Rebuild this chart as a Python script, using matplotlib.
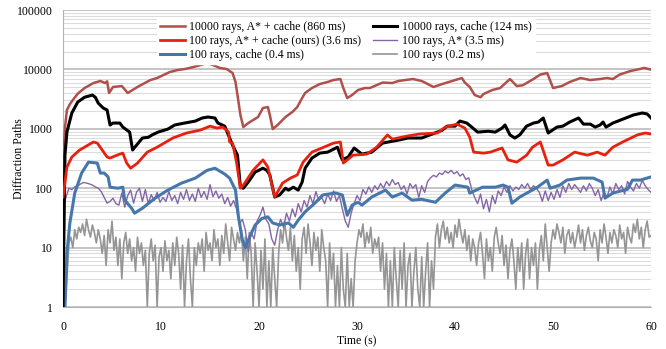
import numpy as np
import matplotlib
matplotlib.use("Agg")
import matplotlib.pyplot as plt
from matplotlib.ticker import LogLocator, FixedLocator, NullFormatter

plt.rcParams["font.family"] = ["Liberation Serif", "DejaVu Serif"]

# 10000 rays, A* + cache
t_big_astar = [0.0, 0.1, 0.2, 0.4, 0.7, 1.0, 1.5, 2.2, 2.7, 3.1, 3.8, 4.3, 4.5, 4.7, 5.1,
               6.0, 6.6, 7.6, 8.9, 9.6, 10.9, 11.7, 12.5, 13.3, 14.0, 14.7, 15.3, 16.0,
               16.7, 17.3, 17.6, 17.8, 18.1, 18.4, 18.9, 19.9, 20.4, 20.9, 21.1, 21.4,
               21.9, 22.7, 23.4, 23.9, 24.4, 24.7, 25.4, 26.2, 27.0, 27.6, 28.3, 28.6,
               29.0, 29.5, 30.1, 30.8, 31.3, 32.6, 33.6, 34.2, 35.7, 36.6, 37.8, 38.7,
               40.0, 40.7, 41.0, 41.5, 42.0, 42.6, 42.9, 43.8, 44.6, 45.6, 46.3, 46.9,
               48.0, 48.7, 49.4, 50.0, 50.9, 51.7, 52.8, 53.8, 54.8, 55.5, 56.1, 56.8,
               57.9, 58.9, 59.3, 59.7, 60.0]
v_big_astar = [1.5, 500, 1050, 2070, 2600, 3050, 3900, 4860, 5400, 5900, 6380, 5900, 6300,
               4010, 5060, 5250, 4010, 5060, 6610, 7160, 9040, 9770, 10200, 10970, 11800,
               12820, 11860, 10570, 10160, 8700, 6140, 3710, 1710, 1072, 1250, 1580, 2240,
               2330, 1710, 990, 1160, 1580, 1920, 2330, 3300, 4010, 4860, 5680, 6140, 6630,
               6890, 4860, 3300, 3710, 4500, 4860, 4860, 6000, 5900, 6380, 6890, 6380, 5060,
               5680, 6610, 7160, 6000, 5060, 3710, 3400, 3850, 4500, 4860, 6890, 5250, 5400,
               6890, 8200, 8700, 4860, 5250, 6140, 7160, 6630, 6890, 7160, 6890, 8200, 9400,
               10200, 10600, 10200, 9900]

# 10000 rays, cache
t_big_cache = [0.0, 0.1, 0.2, 0.4, 0.9, 1.5, 2.2, 3.0, 3.3, 3.6, 4.1, 4.5, 4.8, 5.1, 5.8,
               6.1, 6.8, 7.1, 8.1, 8.7, 9.1, 9.7, 10.7, 11.4, 12.4, 13.5, 14.2, 14.8, 15.5,
               15.8, 16.5, 17.0, 17.3, 17.8, 18.1, 18.4, 18.9, 19.6, 20.4, 20.8, 21.1, 21.6,
               22.1, 22.7, 23.0, 23.5, 24.0, 24.4, 24.7, 25.4, 26.2, 27.0, 28.0, 28.3, 28.5,
               29.1, 29.7, 30.5, 31.5, 32.6, 33.2, 34.2, 35.2, 36.6, 37.7, 38.7, 39.2, 40.0,
               40.5, 41.2, 41.7, 42.3, 43.4, 44.1, 44.8, 45.1, 45.6, 46.1, 46.6, 47.3, 48.0,
               48.5, 49.0, 49.5, 50.4, 51.0, 51.7, 52.6, 53.1, 53.8, 54.3, 54.8, 55.1, 55.4,
               56.1, 57.1, 58.2, 59.1, 59.6, 60.0]
v_big_cache = [1, 20, 362, 883, 1845, 2820, 3400, 3700, 3400, 2700, 2240, 2070, 1160, 1250,
               1250, 1070, 880, 440, 700, 720, 790, 880, 990, 1160, 1250, 1350, 1520, 1580,
               1520, 1250, 1110, 700, 530, 360, 104, 100, 127, 187, 217, 200, 167, 71, 77,
               100, 93, 104, 93, 127, 217, 322, 390, 405, 490, 360, 300, 335, 475, 375, 405,
               575, 600, 645, 700, 700, 820, 950, 1110, 1110, 1350, 1250, 1070, 880, 910, 880,
               1030, 1160, 790, 700, 790, 1110, 1250, 1300, 1520, 850, 1070, 1110, 1300, 1520,
               1200, 1200, 1070, 1160, 1300, 1070, 1250, 1450, 1710, 1845, 1780, 1520]

# 100 rays, A* + cache (ours)
t_ours = [0.0, 0.4, 0.9, 1.7, 3.1, 3.5, 4.5, 4.8, 5.5, 6.1, 6.5, 6.9, 7.6, 8.6, 9.6, 11.2,
          12.6, 14.0, 15.0, 15.7, 16.3, 16.9, 17.0, 17.3, 17.7, 18.1, 18.4, 19.4, 20.4,
          20.9, 21.6, 22.4, 23.2, 23.9, 24.5, 25.4, 26.4, 27.6, 28.3, 28.6, 29.6, 31.0,
          32.0, 33.1, 33.6, 35.1, 36.4, 38.2, 39.0, 40.2, 41.0, 41.5, 41.9, 42.9, 43.6,
          44.8, 45.4, 46.3, 47.3, 47.9, 48.7, 49.5, 50.0, 51.0, 52.2, 53.5, 54.5, 55.3,
          56.1, 57.1, 58.6, 59.4, 60.0]
v_ours = [71, 227, 335, 440, 600, 575, 335, 322, 360, 390, 265, 217, 265, 405, 490, 700,
          850, 950, 1110, 1030, 1070, 880, 600, 575, 275, 100, 113, 200, 300, 227, 71, 122,
          148, 167, 275, 405, 475, 575, 600, 265, 360, 375, 490, 790, 670, 755, 820, 850,
          1070, 1200, 1030, 720, 405, 390, 405, 475, 300, 275, 360, 490, 600, 245, 245,
          300, 405, 360, 405, 360, 490, 600, 790, 850, 820]

# 100 rays, cache
t_small_cache = [0.0, 0.2, 0.4, 0.7, 1.2, 1.9, 2.6, 3.5, 3.8, 4.2, 4.6, 4.8, 5.6, 6.1, 6.3,
                 7.0, 7.3, 8.1, 9.4, 10.7, 12.1, 13.5, 14.7, 15.5, 16.5, 17.0, 17.6, 17.9,
                 18.3, 18.6, 18.9, 19.6, 20.3, 20.9, 21.4, 22.1, 23.0, 23.5, 24.0, 24.7,
                 25.7, 26.5, 27.8, 28.5, 29.0, 29.5, 30.1, 30.5, 31.5, 32.9, 33.6, 34.6,
                 35.6, 36.6, 38.0, 39.0, 40.0, 41.3, 41.5, 42.8, 44.1, 44.9, 45.4, 45.8,
                 46.6, 48.4, 49.4, 49.7, 50.7, 51.4, 52.8, 54.1, 55.0, 55.3, 56.1, 57.6,
                 58.1, 58.9, 60.0]
v_small_cache = [1, 1, 8, 26, 83, 180, 275, 265, 180, 180, 155, 104, 100, 104, 63, 46, 38,
                 46, 68, 93, 122, 148, 200, 217, 173, 148, 93, 33, 13.4, 10, 13.4, 24, 31,
                 33, 26, 24, 26, 22, 29, 40, 56, 77, 83, 77, 35, 52, 58, 52, 71, 93, 71, 83,
                 63, 65, 58, 83, 113, 104, 83, 104, 104, 113, 104, 56, 71, 104, 137, 100, 113,
                 137, 148, 148, 127, 68, 83, 96, 137, 137, 155]

# 100 rays, A*  (one sample every 0.3 s)
v_small_astar = [48, 70, 100, 95, 105, 110, 118, 125, 122, 118, 113, 105, 100, 88, 70, 56,
                 60, 68, 55, 52, 83, 48, 75, 93, 56, 86, 100, 60, 95, 55, 78, 62, 85, 58,
                 70, 60, 88, 62, 75, 55, 85, 65, 95, 62, 80, 60, 100, 70, 88, 65, 115, 72,
                 90, 68, 80, 55, 70, 50, 62, 45, 25, 30, 20, 8.5, 18, 14, 28, 35, 48, 30, 25,
                 14, 11, 20, 30, 22, 38, 28, 45, 33, 55, 40, 62, 48, 75, 55, 88, 62, 70, 55,
                 80, 62, 90, 60, 75, 45, 28, 22, 38, 55, 75, 62, 95, 80, 105, 85, 110, 95,
                 120, 100, 130, 110, 140, 115, 125, 95, 110, 80, 120, 100, 115, 70, 110, 85,
                 130, 150, 165, 155, 180, 170, 195, 180, 200, 175, 190, 160, 175, 140, 150,
                 95, 70, 55, 80, 45, 65, 40, 75, 55, 90, 75, 105, 85, 110, 90, 105, 95, 115,
                 100, 120, 95, 110, 100, 85, 60, 90, 62, 85, 65, 95, 70, 110, 85, 120, 95,
                 115, 100, 85, 110, 90, 120, 100, 75, 95, 62, 85, 70, 105, 80, 120, 95, 110,
                 80, 130, 105, 90, 120, 100, 135, 110, 95, 85]

# 100 rays  (one sample every 0.2 s)
v_small = [1, 1, 3, 12, 15, 10, 20, 14, 22, 18,
           25, 16, 30, 20, 15, 24, 18, 12, 20, 14,
           8, 16, 5, 20, 12, 28, 9, 15, 5, 14,
           3, 12, 18, 8, 14, 6, 10, 4, 15, 8,
           12, 5, 9, 1, 8, 14, 6, 11, 1, 7,
           10, 4, 13, 6, 9, 3, 12, 5, 15, 8,
           2, 11, 1, 6, 14, 3, 1, 10, 5, 12,
           8, 14, 4, 18, 9, 12, 6, 20, 10, 14,
           5, 16, 8, 25, 12, 6, 22, 14, 9, 18,
           12, 20, 6, 15, 3, 18, 8, 1, 12, 4,
           1, 9, 2, 14, 1, 6, 1, 10, 3, 1,
           8, 20, 12, 28, 15, 9, 22, 6, 16, 4,
           10, 2, 14, 22, 8, 25, 12, 5, 18, 9,
           15, 4, 20, 10, 6, 1, 12, 3, 8, 1,
           5, 1, 10, 2, 1, 8, 1, 3, 1, 6,
           12, 20, 15, 25, 10, 18, 12, 22, 8, 14,
           10, 15, 4, 12, 2, 8, 1, 6, 1, 10,
           3, 1, 9, 2, 12, 1, 5, 8, 1, 4,
           10, 2, 1, 7, 1, 4, 12, 1, 6, 2,
           15, 25, 10, 20, 28, 14, 22, 12, 18, 10,
           24, 15, 30, 18, 12, 20, 9, 16, 6, 14,
           10, 5, 12, 18, 8, 3, 14, 6, 10, 4,
           15, 22, 12, 8, 16, 5, 11, 3, 9, 14,
           6, 2, 10, 4, 12, 2, 8, 14, 3, 10,
           5, 12, 2, 9, 16, 6, 25, 10, 4, 12,
           20, 14, 25, 18, 12, 22, 8, 16, 20, 12,
           18, 10, 15, 24, 12, 20, 9, 16, 22, 13,
           10, 18, 14, 6, 20, 12, 25, 15, 8, 18,
           12, 20, 16, 10, 24, 14, 18, 8, 22, 15,
           12, 25, 18, 30, 14, 22, 10, 20, 28, 15,
           16]

t_small_astar = np.arange(len(v_small_astar)) * 0.3
t_small = np.arange(len(v_small)) * 0.2

y_ticks = [1, 10, 100, 1000, 10000, 100000]
x_ticks = [0, 10, 20, 30, 40, 50, 60]

fig = plt.figure(figsize=(6.66, 3.49), dpi=100)
ax = fig.add_axes([0.0946, 0.1203, 0.883, 0.851])

ax.plot(t_big_astar, v_big_astar, color="#b0504c", lw=1.8,
        label="10000 rays, A* + cache (860 ms)", zorder=3)
ax.plot(t_ours, v_ours, color="#e8200e", lw=2.0,
        label="100 rays, A* + cache (ours) (3.6 ms)", zorder=5)
ax.plot(t_small_cache, v_small_cache, color="#4677ab", lw=2.2,
        label="100 rays, cache (0.4 ms)", zorder=4)
ax.plot(t_big_cache, v_big_cache, color="black", lw=2.2,
        label="10000 rays, cache (124 ms)", zorder=4)
ax.plot(t_small_astar, v_small_astar, color="#8466a6", lw=1.0,
        label="100 rays, A* (3.5 ms)", zorder=3)
ax.plot(t_small, v_small, color="#959595", lw=1.2,
        label="100 rays (0.2 ms)", zorder=2)

ax.set_yscale("log")
ax.set_ylim(1, 100000)
ax.set_xlim(0, 60)
ax.yaxis.set_major_locator(FixedLocator(y_ticks))
ax.set_yticklabels([str(v) for v in y_ticks])
ax.yaxis.set_minor_locator(LogLocator(base=10, subs=np.arange(2, 10)))
ax.yaxis.set_minor_formatter(NullFormatter())
ax.set_xticks(x_ticks)

ax.grid(True, which="major", axis="y", color="#b4b4b4", lw=1.1, zorder=0)
ax.grid(True, which="minor", axis="y", color="#dcdcdc", lw=0.8, zorder=0)
ax.set_axisbelow(True)

for side in ["top", "right"]:
    ax.spines[side].set_visible(False)
ax.spines["left"].set_color("#b4b4b4")
ax.spines["bottom"].set_color("#b4b4b4")
ax.tick_params(axis="both", which="both", length=0, labelsize=8.5)
ax.tick_params(axis="y", pad=7)
ax.tick_params(axis="x", pad=10)

ax.set_xlabel("Time (s)", fontsize=8.5, labelpad=2)
ax.set_ylabel("Diffraction Paths", fontsize=8.5)
ax.yaxis.set_label_coords(-0.064, 0.5)

leg = ax.legend(loc="upper left", bbox_to_anchor=(0.1497, 0.994), ncol=2,
                fontsize=8.5, frameon=True, fancybox=False, framealpha=1,
                edgecolor="white", handlelength=2.1, handletextpad=0.35,
                columnspacing=0.95, labelspacing=0.15, borderpad=0.3)
leg.set_zorder(10)

fig.savefig("out.png", dpi=100)
